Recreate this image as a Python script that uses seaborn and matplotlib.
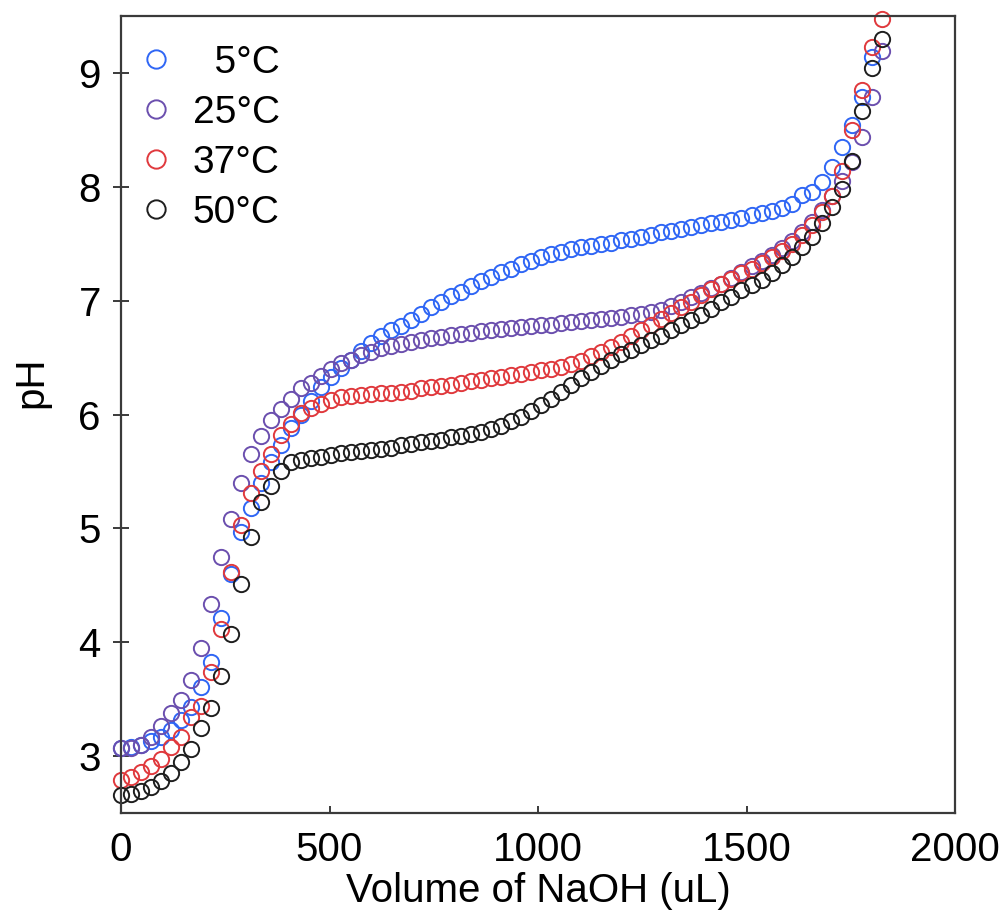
import matplotlib
matplotlib.use("Agg")
import matplotlib.pyplot as plt
import pandas as pd
import seaborn as sns

# ---------------- data ----------------
VOLUME_UL = list(range(0, 1825, 24))  # NaOH additions, uL

PH_5C = [3.07, 3.08, 3.10, 3.13, 3.17, 3.23, 3.32, 3.43, 3.61, 3.83,
         4.21, 4.60, 4.97, 5.18, 5.40, 5.58, 5.73, 5.88, 6.00, 6.12,
         6.24, 6.33, 6.41, 6.48, 6.56, 6.63, 6.69, 6.74, 6.78, 6.83,
         6.88, 6.94, 6.99, 7.04, 7.08, 7.13, 7.17, 7.21, 7.25, 7.28,
         7.32, 7.35, 7.38, 7.41, 7.43, 7.45, 7.47, 7.48, 7.50, 7.51,
         7.53, 7.54, 7.56, 7.58, 7.60, 7.61, 7.63, 7.65, 7.66, 7.68,
         7.69, 7.71, 7.73, 7.75, 7.77, 7.79, 7.81, 7.85, 7.93, 7.95,
         8.04, 8.17, 8.35, 8.54, 8.79, 9.14]

PH_25C = [3.07, 3.07, 3.10, 3.17, 3.26, 3.38, 3.49, 3.67, 3.95, 4.34,
          4.75, 5.08, 5.40, 5.65, 5.81, 5.95, 6.05, 6.14, 6.23, 6.28,
          6.34, 6.40, 6.45, 6.48, 6.52, 6.55, 6.58, 6.60, 6.62, 6.64,
          6.65, 6.67, 6.68, 6.70, 6.71, 6.72, 6.73, 6.74, 6.75, 6.76,
          6.77, 6.78, 6.79, 6.79, 6.80, 6.81, 6.82, 6.83, 6.84, 6.85,
          6.86, 6.87, 6.88, 6.90, 6.92, 6.95, 6.99, 7.03, 7.07, 7.11,
          7.15, 7.20, 7.25, 7.30, 7.35, 7.40, 7.46, 7.52, 7.60, 7.69,
          7.80, 7.92, 8.05, 8.22, 8.44, 8.79, 9.19]

PH_37C = [2.79, 2.82, 2.86, 2.91, 2.97, 3.08, 3.17, 3.34, 3.44, 3.74,
          4.12, 4.62, 5.03, 5.31, 5.50, 5.65, 5.82, 5.92, 6.01, 6.06,
          6.09, 6.13, 6.15, 6.16, 6.17, 6.18, 6.19, 6.19, 6.20, 6.21,
          6.23, 6.24, 6.25, 6.26, 6.28, 6.29, 6.30, 6.32, 6.33, 6.35,
          6.36, 6.37, 6.39, 6.40, 6.42, 6.44, 6.47, 6.51, 6.55, 6.59,
          6.64, 6.69, 6.74, 6.79, 6.84, 6.89, 6.94, 6.99, 7.05, 7.10,
          7.15, 7.19, 7.24, 7.28, 7.33, 7.38, 7.44, 7.50, 7.58, 7.66,
          7.78, 7.92, 8.14, 8.50, 8.85, 9.23, 9.47]

PH_50C = [2.66, 2.67, 2.69, 2.73, 2.78, 2.85, 2.95, 3.06, 3.25, 3.42,
          3.70, 4.07, 4.51, 4.92, 5.23, 5.37, 5.50, 5.58, 5.60, 5.62,
          5.63, 5.64, 5.66, 5.67, 5.68, 5.69, 5.70, 5.71, 5.73, 5.74,
          5.76, 5.77, 5.78, 5.80, 5.81, 5.83, 5.85, 5.87, 5.90, 5.94,
          5.98, 6.03, 6.08, 6.14, 6.20, 6.26, 6.32, 6.37, 6.43, 6.48,
          6.53, 6.57, 6.61, 6.65, 6.69, 6.74, 6.79, 6.83, 6.87, 6.93,
          6.99, 7.03, 7.09, 7.14, 7.18, 7.24, 7.31, 7.38, 7.47, 7.56,
          7.68, 7.82, 7.98, 8.23, 8.67, 9.04, 9.30]

SERIES = ["  5°C", "25°C", "37°C", "50°C"]
SERIES_PH = [PH_5C, PH_25C, PH_37C, PH_50C]
COLORS = ["#2f66f5", "#6b4fae", "#e0393d", "#1e1e1e"]

X_TICKS = [0, 500, 1000, 1500, 2000]
Y_TICKS = [3, 4, 5, 6, 7, 8, 9]

# ---------------- long table ----------------
rows = []
for name, vals in zip(SERIES, SERIES_PH):
    for v, p in zip(VOLUME_UL, vals):
        rows.append({"volume": v, "pH": p, "temp": name})
df = pd.DataFrame(rows)

# ---------------- styling ----------------
sns.set_style("ticks")
plt.rcParams["font.family"] = ["Liberation Sans", "DejaVu Sans"]
plt.rcParams["text.color"] = "black"
plt.rcParams["axes.labelcolor"] = "black"
plt.rcParams["xtick.labelcolor"] = "black"
plt.rcParams["ytick.labelcolor"] = "black"

fig = plt.figure(figsize=(10.07, 9.10), dpi=100)
ax = fig.add_axes([121 / 1007, 1 - 813 / 910, (955 - 121) / 1007, (813 - 16) / 910])

sns.lineplot(
    data=df, x="volume", y="pH", hue="temp",
    hue_order=SERIES, palette=dict(zip(SERIES, COLORS)),
    estimator=None, sort=False, legend=False, ax=ax,
    linestyle="", marker="o", markersize=11, markerfacecolor="none",
    markeredgewidth=1.4,
)
for ln, c in zip(ax.lines, COLORS):
    ln.set_markeredgecolor(c)
    ln.set_markerfacecolor("none")
    ln.set_clip_on(False)

ax.set_xlim(0, 2000)
ax.set_ylim(2.5, 9.5)
ax.set_xticks(X_TICKS)
ax.set_yticks(Y_TICKS)

spine_col = "#3a3a3a"
for s in ax.spines.values():
    s.set_color(spine_col)
    s.set_linewidth(1.6)

ax.tick_params(axis="x", direction="in", length=5, width=1.4, color=spine_col,
               labelsize=29, pad=13, top=False, labelcolor="black")
ax.tick_params(axis="y", direction="inout", length=11, width=1.4, color=spine_col,
               labelsize=29, pad=9, right=False, labelcolor="black")

ax.set_xlabel("Volume of NaOH (uL)", fontsize=29, labelpad=2, color="black")
ax.set_ylabel("pH", fontsize=29, color="black")
ax.yaxis.set_label_coords(-0.085, 0.54)

leg = ax.legend(
    handles=list(ax.lines), labels=SERIES,
    loc="upper left", bbox_to_anchor=(0.0, 0.983), frameon=False,
    fontsize=28, handlelength=1.0, handletextpad=0.45,
    labelspacing=0.36, borderaxespad=0.3, borderpad=0.1, markerscale=1.2,
)
for t in leg.get_texts():
    t.set_color("black")

fig.savefig("out.png", dpi=100, facecolor="white")
